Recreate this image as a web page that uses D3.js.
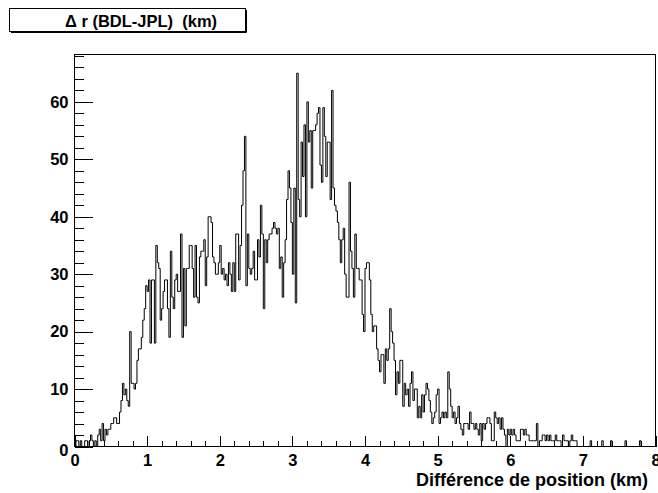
<!DOCTYPE html>
<html>
<head>
<meta charset="utf-8">
<script src="https://cdn.jsdelivr.net/npm/d3@7"></script>
<style>
  html, body { margin: 0; padding: 0; background: #fff; }
  svg { display: block; }
  text { font-family: "Liberation Sans", Arial, Helvetica, sans-serif; font-weight: bold; fill: #000; }
</style>
</head>
<body>
<svg id="chart" width="658" height="493"></svg>
<script>
// ---- data ----
const title = "\u0394 r (BDL-JPL)\u00a0 (km)";
const xTitle = "Diff\u00e9rence de position (km)";
const xMin = 0, xMax = 8, binWidth = 0.02;
const xTickLabels = [0, 1, 2, 3, 4, 5, 6, 7, 8];
const yTickLabels = [0, 10, 20, 30, 40, 50, 60];
// bin counts, 400 bins of 0.02 km (one row = 0.1 km)
const counts = [
  0,1,1,0,1,   0,0,1,1,0,   1,2,1,0,1,   0,2,3,1,4,   1,3,2,3,3,
  4,4,5,5,4,   4,6,8,11,9,  10,8,7,20,11, 11,10,11,15,17, 17,19,22,24,28,
  27,29,18,29,29, 18,35,32,31,22, 24,27,29,29,24, 19,34,26,24,29, 30,27,27,37,19,
  31,21,31,31,35, 35,31,26,35,26, 25,33,34,34,36, 28,33,40,40,39, 33,32,30,30,32,
  35,30,31,29,30, 28,32,30,27,32, 27,37,37,29,35, 42,48,54,28,37, 31,30,31,34,29,
  29,36,33,42,37, 24,36,32,36,37, 37,38,39,38,37, 38,31,33,26,32, 36,43,48,45,39,
  30,45,25,65,43, 40,53,47,56,40, 60,53,55,45,55, 55,56,58,59,49, 46,59,54,47,53,
  53,43,62,45,42, 41,39,36,32,36, 38,30,26,26,46, 34,31,26,37,31, 31,29,29,23,20,
  31,32,32,29,23, 20,21,21,17,15, 13,16,16,11,17, 15,17,24,20,18, 15,9,13,11,15,
  15,7,11,9,10,   7,11,13,8,10,  10,5,7,5,9,    6,9,11,10,8,   6,4,5,6,9,
  10,4,5,6,5,     6,5,13,10,7,   5,6,4,5,7,     4,3,2,4,4,     4,3,6,4,4,
  3,4,3,2,4,      1,4,3,4,5,     5,4,1,1,6,     5,4,5,3,5,     3,2,0,3,2,
  3,2,3,2,1,      1,1,3,3,2,     3,2,2,1,1,     1,1,1,4,0,     1,1,2,2,1,
  2,1,2,1,1,      1,2,1,1,1,     0,2,1,1,1,     0,1,2,1,1,     1,0,0,0,0,
  0,0,0,0,0,      1,0,0,0,0,     0,0,0,1,0,     0,0,0,0,1,     0,0,0,0,0,
  0,0,0,0,1,      0,0,0,0,0,     0,0,0,0,1,     0,0,0,0,0,     0,0,0,0,0
];

// ---- layout ----
const frame = { left: 74.5, right: 655.5, top: 54.5, bottom: 446.5 };
const yMax = d3.max(counts) * 1.05;

const svg = d3.select("#chart");
const x = d3.scaleLinear().domain([xMin, xMax]).range([frame.left, frame.right]);
const y = d3.scaleLinear().domain([0, yMax]).range([frame.bottom, frame.top]);

// title box
const tb = svg.append("g");
tb.append("rect").attr("x", 9.5).attr("y", 8.5).attr("width", 236).attr("height", 23)
  .attr("fill", "#fff").attr("stroke", "#000").attr("stroke-width", 1);
tb.append("line").attr("x1", 246.5).attr("x2", 246.5).attr("y1", 10).attr("y2", 32.5).attr("stroke", "#000").attr("stroke-width", 1);
tb.append("line").attr("x1", 11).attr("x2", 246.5).attr("y1", 32.5).attr("y2", 32.5).attr("stroke", "#000").attr("stroke-width", 1);
tb.append("text").attr("x", 141).attr("y", 26.5).attr("text-anchor", "middle")
  .style("font-size", "16.5px").text(title);

// histogram step path
const bins = counts.map((c, i) => ({ x0: xMin + i * binWidth, x1: xMin + (i + 1) * binWidth, c }));
const pts = [[x(xMin), y(0)]];
bins.forEach(b => { pts.push([x(b.x0), y(b.c)]); pts.push([x(b.x1), y(b.c)]); });
pts.push([x(xMax), y(0)]);
svg.append("path").attr("d", d3.line()(pts)).attr("fill", "none")
  .attr("stroke", "#000").attr("stroke-width", 1);

// frame
svg.append("rect").attr("x", frame.left).attr("y", frame.top)
  .attr("width", frame.right - frame.left).attr("height", frame.bottom - frame.top)
  .attr("fill", "none").attr("stroke", "#000").attr("stroke-width", 1).attr("shape-rendering", "crispEdges");

// y axis
const yMinor = d3.range(0, yMax, 2).filter(v => v % 10 !== 0);
const gy = svg.append("g").attr("transform", `translate(${frame.left},0)`);
gy.call(d3.axisLeft(y).tickValues(yTickLabels).tickSize(-18).tickPadding(6).tickFormat(d3.format("d")));
gy.append("g").call(d3.axisLeft(y).tickValues(yMinor).tickSize(-9).tickFormat(""));
gy.selectAll(".domain").remove();
gy.selectAll("line").attr("stroke", "#000").attr("shape-rendering", "crispEdges");
gy.selectAll("text").style("font-size", "16.5px").attr("font-family", null);
gy.selectAll(".tick text").filter(d => d === 0).attr("dy", "0.55em");

// x axis
const xMinor = d3.range(0, 8.001, 0.2).filter(v => Math.abs(v - Math.round(v)) > 1e-6);
const gx = svg.append("g").attr("transform", `translate(0,${frame.bottom})`);
gx.call(d3.axisBottom(x).tickValues(xTickLabels).tickSize(-11).tickPadding(8).tickFormat(d3.format("d")));
gx.append("g").call(d3.axisBottom(x).tickValues(xMinor).tickSize(-6).tickFormat(""));
gx.selectAll(".domain").remove();
gx.selectAll("line").attr("stroke", "#000").attr("shape-rendering", "crispEdges");
gx.selectAll("text").style("font-size", "16.5px").attr("font-family", null);

// x title
svg.append("text").attr("x", 648).attr("y", 486).attr("text-anchor", "end")
  .style("font-size", "18px").text(xTitle);
</script>
</body>
</html>
